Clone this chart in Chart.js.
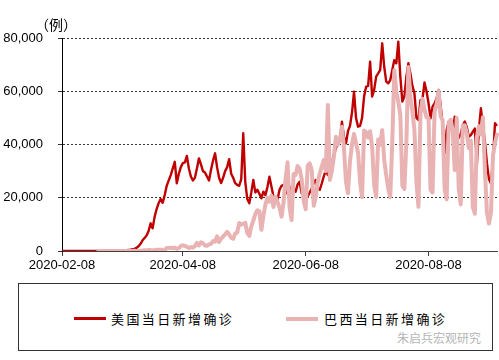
<!DOCTYPE html>
<html>
<head>
<meta charset="utf-8">
<script src="https://cdn.jsdelivr.net/npm/chart.js@4"></script>
<style>
  body { margin: 0; background: #fff; width: 499px; height: 360px; position: relative; overflow: hidden; }
  #chart { position: absolute; left: 0; top: 0; }
  .unit { position: absolute; left: 35px; top: 17px; font: 14px/1 "Noto Sans CJK SC", sans-serif; color: #000; }
  .legend { position: absolute; left: 18px; top: 283px; width: 475px; height: 68px; box-sizing: border-box; border: 1px solid #333; }
  .swatch { position: absolute; top: 33px; width: 32px; height: 3px; }
  .name { position: absolute; top: 26px; font: 13px/18px "Noto Sans CJK SC", sans-serif; letter-spacing: 2.4px; color: #000; }
  .mark { position: absolute; left: 378px; top: 47px; font: 12px/14px "Noto Sans CJK SC", sans-serif; color: #b5b5b5; }
</style>
</head>
<body>
<canvas id="chart" width="499" height="280"></canvas>
<div class="unit">（例）</div>
<div class="legend">
  <div class="swatch" style="left:55px;background:#C00000"></div>
  <div class="name" style="left:92px">美国当日新增确诊</div>
  <div class="swatch" style="left:267px;background:#E9B3B3;height:4px"></div>
  <div class="name" style="left:305px">巴西当日新增确诊</div>
  <div class="mark">朱启兵宏观研究</div>
</div>
<script>
// Daily categories: 2020-02-08 .. 2020-09-11
const startDate = Date.UTC(2020, 1, 8);
const dates = [];
for (let i = 0; i < 217; i++) {
    dates.push(new Date(startDate + i * 86400000).toISOString().slice(0, 10));
}
const tickDates = ['2020-02-08', '2020-04-08', '2020-06-08', '2020-08-08'];

// US daily new cases
const usCases = [
    // Feb 8 - Feb 29
    0, 0, 0, 0, 0, 0, 0, 0, 0, 0, 0, 0, 0, 0, 0, 0, 0, 0, 0, 0, 0, 0,
    // Mar
    10, 20, 30, 30, 70, 60, 90, 110, 150, 290, 270, 420, 510, 640, 800, 1200, 1800, 2700, 4000, 4900,
    5800, 7500, 10400, 8500, 12900, 15800, 18000, 19500, 18100, 21000, 24500,
    // Apr
    26500, 28500, 31000, 33500, 25400, 29000, 31500, 33000, 33300, 35700, 31000, 28000, 26500, 27500, 31000,
    34800, 32500, 30000, 29500, 28000, 26500, 30500, 34000, 36700, 31500, 27500, 25500, 27500, 30000, 31500,
    // May
    34500, 29000, 27500, 25500, 24800, 24500, 27000, 44200, 26000, 19500, 17900, 22000, 26700, 22000, 23000, 21500,
    19800, 22300, 21000, 24000, 27900, 24200, 20500, 19500, 19200, 23000, 24500, 24800, 22500, 21500, 21000,
    // Jun
    24200, 23500, 22300, 25000, 26000, 21700, 20500, 19200, 20500, 22000, 23500, 25500, 26700, 23500, 23000,
    25400, 28000, 30400, 28500, 31000, 33000, 36000, 38600, 40500, 41700, 48600, 43000, 40400, 45000, 47000,
    // Jul
    52000, 59800, 50000, 46700, 47000, 50000, 58000, 61700, 62000, 71100, 58000, 60500, 65500, 66700, 68000, 78000,
    69200, 63600, 63000, 64200, 68000, 71700, 70500, 78600, 65500, 56100, 58000, 65500, 70500, 66700, 62000,
    // Aug
    59200, 50000, 49200, 56700, 57000, 63300, 60000, 55500, 49800, 54200, 55500, 57300, 60500, 55000, 46700, 36700,
    45400, 48600, 46000, 44800, 50400, 41700, 42500, 44000, 47300, 48600, 46500, 42900, 43500, 44800, 46000,
    // Sep 1 - Sep 11
    32300, 45400, 53600, 47000, 41000, 33000, 27000, 25400, 34200, 48000, 47000
];

// Brazil daily new cases
const brCases = [
    // Feb 8 - Feb 25 (no data)
    null, null, null, null, null, null, null, null, null, null, null, null, null, null, null, null, null, null,
    // Feb 26 - Feb 29
    1, 0, 0, 1,
    // Mar
    0, 0, 0, 1, 4, 5, 6, 6, 5, 9, 18, 25, 21, 23, 79, 34, 57, 137, 193, 283,
    224, 418, 345, 310, 232, 482, 502, 487, 352, 323, 1138,
    // Apr
    1119, 1208, 1012, 1304, 770, 1031, 1873, 2136, 1922, 1546, 1089, 1465, 1238, 1832, 3058,
    2105, 3257, 2917, 2055, 1927, 2498, 2678, 3735, 3503, 5514, 3379, 4613, 5385, 6276, 7218,
    // May
    6209, 4970, 4588, 6633, 6935, 10503, 9888, 10222, 10611, 6760, 5632, 9258, 11385, 13944, 15305, 14919,
    7938, 13140, 17408, 19951, 18508, 20800, 16500, 20400, 18500, 16300, 12900, 18000, 26900, 33300, 16400,
    // Jun
    11600, 28900, 28600, 31900, 30800, 27100, 18900, 15700, 32100, 32900, 30400, 17000, 20400, 26000, 29200,
    31700, 34200, 30000, 54800, 26700, 30000, 35400, 42900, 40000, 42000, 46700, 38700, 26000, 21700, 33800,
    // Jul
    40000, 44000, 40400, 37000, 26000, 20200, 45300, 44600, 42600, 45000, 39000, 24800, 20300, 41900, 39900, 45400,
    34200, 28500, 23500, 20300, 41000, 67900, 60000, 55900, 51100, 24600, 23300, 40800, 69100, 57800, 52400,
    // Aug
    45400, 25800, 16600, 51600, 57200, 53100, 50200, 50000, 23000, 22000, 52200, 55200, 60100, 50600, 49300, 23100,
    19400, 47800, 49300, 45300, 30400, 50000, 23400, 17500, 47100, 47200, 44200, 38600, 41400, 16500, 14000,
    // Sep 1 - Sep 11
    42700, 46900, 43800, 50200, 30200, 14500, 10300, 14300, 35800, 40600, 43700
];

const tickIdx = new Set(tickDates.map(d => dates.indexOf(d)));
const tickFont = { family: "'Liberation Sans', Arial, sans-serif", size: 13 };

new Chart(document.getElementById('chart'), {
    type: 'line',
    data: {
        labels: dates,
        datasets: [
            {
                label: '美国当日新增确诊',
                data: usCases,
                borderColor: '#C00000',
                borderWidth: 2.4,
                borderJoinStyle: 'round',
                order: 1
            },
            {
                label: '巴西当日新增确诊',
                data: brCases,
                borderColor: '#E9B3B3',
                borderWidth: 4,
                borderJoinStyle: 'round',
                borderCapStyle: 'round',
                order: 0
            }
        ]
    },
    options: {
        responsive: false,
        animation: false,
        devicePixelRatio: 1,
        layout: { padding: { top: 38, right: 0, bottom: 0, left: 0 } },
        elements: { point: { radius: 0 }, line: { tension: 0 } },
        plugins: { legend: { display: false }, tooltip: { enabled: false } },
        scales: {
            x: {
                ticks: {
                    autoSkip: false,
                    maxRotation: 0,
                    padding: 2,
                    color: '#000',
                    font: tickFont,
                    callback: (v, i) => tickIdx.has(i) ? dates[i] : ''
                },
                grid: {
                    drawOnChartArea: false,
                    tickLength: 5,
                    color: c => tickIdx.has(c.index) ? '#404040' : 'rgba(0,0,0,0)',
                    lineWidth: c => tickIdx.has(c.index) ? 1 : 0
                },
                border: { display: true, color: '#404040', width: 1 },
                afterFit: s => { s.height = 29; }
            },
            y: {
                min: 0,
                max: 80000,
                ticks: { stepSize: 20000, padding: 15, color: '#000', font: tickFont },
                grid: { color: '#333', lineWidth: 1, tickLength: 4 },
                border: { display: true, color: '#000', width: 1, dash: [2, 2] },
                afterFit: s => { s.width = 62; }
            }
        }
    }
});
</script>
</body>
</html>
